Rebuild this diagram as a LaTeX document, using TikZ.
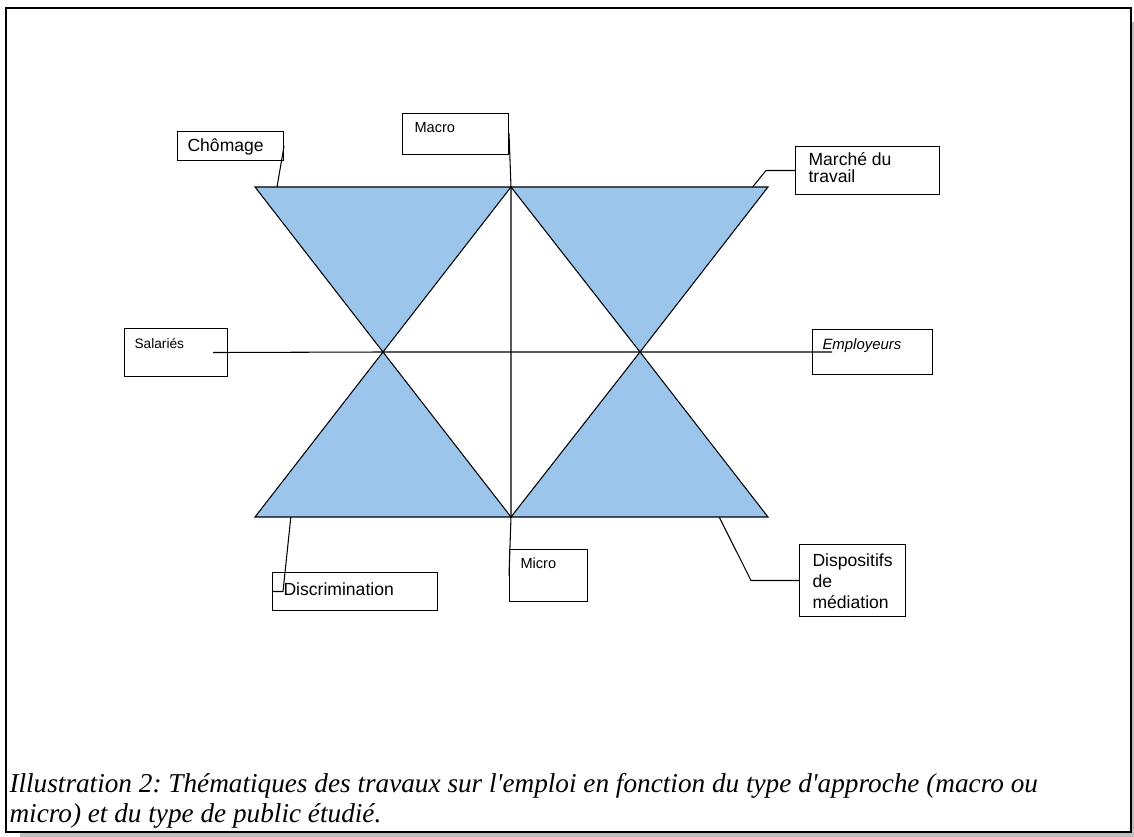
\documentclass[tikz,border=0pt]{standalone}
\usepackage{fontspec}
\setmainfont{Liberation Serif}
\setsansfont{Liberation Sans}
\usetikzlibrary{calc}
\definecolor{triblue}{RGB}{155,197,234}
\definecolor{shadowgray}{RGB}{190,190,190}

\begin{document}
\begin{tikzpicture}[x=0.02cm,y=-0.02cm,line width=0.6pt,
  box/.style={draw,anchor=north west,inner sep=0},
  lbl/.style={anchor=north west,inner sep=0,align=left,font=\sffamily\fontsize{10}{12}\selectfont},
  lblsmall/.style={lbl,font=\sffamily\fontsize{8.3}{10}\selectfont}]
\useasboundingbox (0,0) rectangle (1134,837);
\fill[shadowgray] (20,833) rectangle (1134,837);
\fill[shadowgray] (1131.5,22) rectangle (1134,837);
\draw[line width=0.9pt] (6,8) rectangle (1131,832);

\coordinate (tl) at (255,187);
\coordinate (tc) at (511,187);
\coordinate (tr) at (768,187);
\coordinate (ml) at (383,352);
\coordinate (mr) at (640,352);
\coordinate (bl) at (255,517);
\coordinate (bc) at (511,517);
\coordinate (br) at (768,517);

\foreach \a/\b/\c in {tl/tc/ml, tc/tr/mr, ml/bl/bc, mr/bc/br}{
	\filldraw[fill=triblue] (\a) -- (\b) -- (\c) -- cycle;
	}

\node[box,minimum width=2.12cm,minimum height=0.58cm] (chom) at (177,131) {};
\node[box,minimum width=2.12cm,minimum height=0.82cm] (macro) at (402,113) {};
\node[box,minimum width=2.88cm,minimum height=0.96cm] (march) at (795,146) {};
\node[box,minimum width=2.06cm,minimum height=0.96cm] (sal) at (124,328) {};
\node[box,minimum width=2.40cm,minimum height=0.90cm] (empl) at (812,329) {};
\node[box,minimum width=3.30cm,minimum height=0.76cm] (disc) at (272,572) {};
\node[box,minimum width=1.56cm,minimum height=1.04cm] (micro) at (509,549) {};
\node[box,minimum width=2.12cm,minimum height=1.44cm] (disp) at (799,544) {};

\node[lbl] (chomtxt) at ($(chom.north west)+(10,7)$) {Chômage};
\node[lblsmall] (macrotxt) at ($(macro.north west)+(12,9)$) {Macro};
\node[lbl,font=\sffamily\fontsize{10}{9.7}\selectfont] (marchtxt) at ($(march.north west)+(13,6)$) {Marché du\\travail};
\node[lblsmall,font=\sffamily\fontsize{7.8}{10}\selectfont] (saltxt) at ($(sal.north west)+(10,10)$) {Salariés};
\node[lblsmall,font=\sffamily\itshape\fontsize{8.5}{10}\selectfont] (empltxt) at ($(empl.north west)+(10,9)$) {Employeurs};
\node[lbl] (disctxt) at ($(disc.north west)+(11,10)$) {Discrimination};
\node[lblsmall] (microtxt) at ($(micro.north west)+(11,8)$) {Micro};
\node[lbl] (disptxt) at ($(disp.north west)+(13,9)$) {Dispositifs\\de\\médiation};

\draw ($(macro.east)+(-1,0)$) -- (macro.east) -- (tc) -- (bc) -- (micro.west);
\draw ($(sal.east)+(-15,0)$) -- (ml) -- (mr) -- ($(empl.west)+(20,0)$);
\draw (chom.east) -- ($(tl)!.086!(tc)$);
\draw (march.west) -- ++(-29,0) -- ($(tc)!.94!(tr)$);
\draw ($(bl)!.14!(bc)$) -- ($(disc.west)+(11,0)$) -- (disc.west);
\draw ($(bc)!.81!(br)$) -- ($(disp.west)+(-48,0)$) -- (disp.west);

\node[anchor=north west,inner sep=0,align=left,font=\frenchspacing\itshape\fontsize{15.5}{17}\selectfont] (caption) at (9,773) {Illustration 2: Thématiques des travaux sur l\textquotesingle emploi en fonction du type d\textquotesingle approche (macro ou\\micro) et du type de public étudié.};
\end{tikzpicture}
\end{document}
